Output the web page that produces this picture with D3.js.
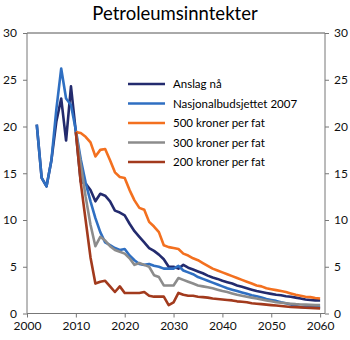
<!DOCTYPE html>
<html>
<head>
<meta charset="utf-8">
<script src="https://cdn.jsdelivr.net/npm/d3@7"></script>
<style>
  body { margin: 0; background: #fff; }
  text { font-family: Lato, "Open Sans", sans-serif; }
</style>
</head>
<body>
<div id="chart"></div>
<script>
// years 2002-2060
var years = d3.range(2002, 2061);

var anslagNa = [20.2, 14.5, 13.6, 16.4, 20.5, 23.0, 18.5, 24.3, 19.4,
  14.1, 13.9, 13.2, 12.0, 12.8, 12.6, 12.0, 11.0, 10.8, 10.5,
  9.6, 8.8, 8.2, 7.6, 7.0, 6.7, 6.3, 5.8, 5.0, 5.0,
  4.8, 5.2, 4.9, 4.7, 4.5, 4.3, 4.05, 3.85, 3.7, 3.5,
  3.35, 3.2, 3.0, 2.85, 2.7, 2.55, 2.4, 2.3, 2.2, 2.1,
  2.0, 1.95, 1.85, 1.8, 1.7, 1.6, 1.5, 1.45, 1.4, 1.4];

var nasjonalbudsjett = [20.2, 14.5, 13.6, 16.4, 21.8, 26.2, 23.0, 22.3, 19.6,
  16.5, 14.0, 12.0, 10.2, 8.7, 7.6, 7.3, 7.0, 6.8, 6.9,
  6.2, 5.7, 5.3, 5.2, 5.3, 5.1, 5.0, 4.8, 4.8, 4.8,
  5.1, 4.6, 4.4, 4.2, 3.9, 3.7, 3.5, 3.3, 3.1, 2.9,
  2.7, 2.55, 2.4, 2.25, 2.1, 1.95, 1.85, 1.7, 1.55, 1.45,
  1.35, 1.2, 1.1, 0.95, 0.8, 0.7, 0.68, 0.66, 0.66, 0.66];

var kr500 = [null, null, null, null, null, null, null, null, 19.4,
  19.3, 18.9, 18.3, 16.8, 17.5, 17.6, 16.4, 15.1, 14.6, 14.5,
  13.2, 12.1, 11.3, 11.1, 9.8, 9.3, 8.7, 7.3, 7.1, 7.0,
  6.9, 6.4, 6.2, 5.9, 5.7, 5.4, 5.1, 4.8, 4.6, 4.4,
  4.2, 4.0, 3.8, 3.6, 3.4, 3.2, 3.0, 2.9, 2.7, 2.6,
  2.5, 2.4, 2.3, 2.15, 2.0, 1.9, 1.8, 1.75, 1.65, 1.6];

var kr300 = [null, null, null, null, null, null, null, null, 19.4,
  16.0, 12.5, 9.5, 7.2, 8.2, 7.8, 7.2, 6.8, 6.6, 6.4,
  5.9, 5.2, 5.4, 5.2, 5.0, 4.1, 3.9, 3.0, 3.0, 3.0,
  3.8, 3.6, 3.4, 3.2, 3.0, 2.9, 2.8, 2.7, 2.55, 2.4,
  2.3, 2.15, 2.0, 1.9, 1.8, 1.7, 1.6, 1.5, 1.4, 1.3,
  1.2, 1.15, 1.1, 1.05, 1.0, 0.97, 0.95, 0.92, 0.9, 0.9];

var kr200 = [null, null, null, null, null, null, null, null, 19.4,
  14.0, 10.0, 6.0, 3.2, 3.4, 3.5, 2.9, 2.3, 2.9, 2.2,
  2.2, 2.2, 2.2, 2.3, 1.9, 1.8, 1.8, 1.8, 0.9, 1.2,
  2.2, 2.0, 1.9, 1.9, 1.8, 1.75, 1.7, 1.6, 1.55, 1.5,
  1.45, 1.4, 1.3, 1.25, 1.2, 1.1, 1.05, 1.0, 0.95, 0.9,
  0.85, 0.8, 0.75, 0.7, 0.68, 0.65, 0.62, 0.6, 0.57, 0.55];

var seriesNames = ["Anslag nå", "Nasjonalbudsjettet 2007", "500 kroner per fat", "300 kroner per fat", "200 kroner per fat"];
var seriesColors = ["#232b6e", "#2f6fc2", "#f3701f", "#8c8c8c", "#a23a1d"];
var seriesValues = [anslagNa, nasjonalbudsjett, kr500, kr300, kr200];

var xTicks = [2000, 2010, 2020, 2030, 2040, 2050, 2060];
var yTicks = [0, 5, 10, 15, 20, 25, 30];

var width = 350, height = 340;
var plotLeft = 27, plotRight = 325, plotTop = 33, plotBottom = 313.5;

var svg = d3.select("#chart").append("svg")
  .attr("width", width)
  .attr("height", height);

var x = d3.scaleLinear().domain([2000, 2061]).range([plotLeft, plotRight]);
var y = d3.scaleLinear().domain([0, 30]).range([plotBottom, plotTop]);

// title
svg.append("text")
  .attr("x", 175)
  .attr("y", 20)
  .attr("text-anchor", "middle")
  .style("font-size", "18.5px")
  .text("Petroleumsinntekter");

// top frame line
svg.append("line")
  .attr("x1", plotLeft).attr("x2", plotRight)
  .attr("y1", plotTop).attr("y2", plotTop)
  .attr("stroke", "#555");

// left axis
var gl = svg.append("g").attr("transform", "translate(" + plotLeft + ",0)")
  .call(d3.axisLeft(y).tickValues(yTicks).tickSize(4).tickPadding(6));
// right axis
var gr = svg.append("g").attr("transform", "translate(" + plotRight + ",0)")
  .call(d3.axisRight(y).tickValues(yTicks).tickSize(4).tickPadding(5));
// bottom axis
var gb = svg.append("g").attr("transform", "translate(0," + plotBottom + ")")
  .call(d3.axisBottom(x).tickValues(xTicks).tickFormat(d3.format("d")).tickSize(4).tickPadding(4));

[gl, gr, gb].forEach(function (g) {
  g.selectAll(".domain").attr("stroke", "#777");
  g.selectAll(".tick line").attr("stroke", "#777");
  g.selectAll(".tick text").style("font-size", "12px").attr("fill", "#111")
    .style("font-family", "Lato, sans-serif");
});
gl.select(".domain").attr("d", "M0," + plotBottom + "V" + plotTop);
gr.select(".domain").attr("d", "M0," + plotBottom + "V" + plotTop);
gb.select(".domain").attr("d", "M" + plotLeft + ",0H" + plotRight);

// lines
var line = d3.line()
  .defined(function (d) { return d[1] !== null; })
  .x(function (d) { return x(d[0]); })
  .y(function (d) { return y(d[1]); });

// series order: later series drawn on top
seriesValues.forEach(function (vals, i) {
  svg.append("path")
    .datum(years.map(function (yr, j) { return [yr, vals[j]]; }))
    .attr("fill", "none")
    .attr("stroke", seriesColors[i])
    .attr("stroke-width", 2.6)
    .attr("stroke-linejoin", "round")
    .attr("d", line);
});

// legend
var legend = svg.append("g").attr("transform", "translate(128,84)");
seriesNames.forEach(function (name, i) {
  var row = legend.append("g").attr("transform", "translate(0," + (i * 19.5) + ")");
  row.append("line")
    .attr("x1", 0).attr("x2", 37)
    .attr("stroke", seriesColors[i])
    .attr("stroke-width", 2.6);
  row.append("text")
    .attr("x", 45)
    .attr("dy", "0.35em")
    .style("font-size", "11.5px")
    .text(name);
});
</script>
</body>
</html>
